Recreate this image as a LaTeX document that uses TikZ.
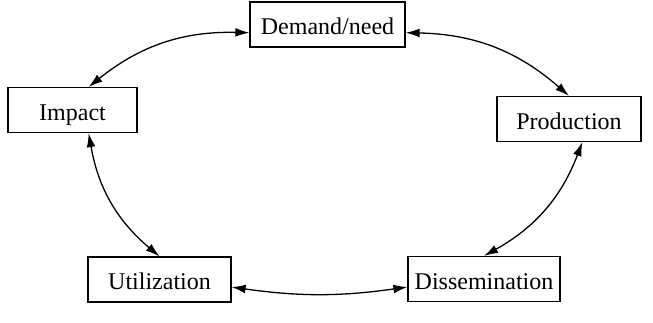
\documentclass[tikz,border=0pt]{standalone}
\usepackage{fontspec}
\setmainfont{Liberation Serif}
\usetikzlibrary{arrows.meta}

\begin{document}
\begin{tikzpicture}[
    x=0.5pt, y=-0.5pt,
    box/.style={draw, line width=0.6pt, minimum height=22.5pt, inner sep=0pt,
        text height=10.5pt, text depth=0.5pt, font=\fontsize{12}{14}\selectfont},
    link/.style={{Latex[length=7pt, width=4.4pt]}-{Latex[length=7pt, width=4.4pt]},
        line width=0.65pt},
]
    \useasboundingbox (0, 0) rectangle (653, 322);
    \node [box, minimum width=77.5pt] (dn) at (327.5, 24.5) {Demand/need};
    \node [box, minimum width=64.5pt] (im) at (72.5, 110) {Impact};
    \node [box, minimum width=72pt] (pr) at (569, 119) {Production};
    \node [box, minimum width=71.5pt] (ut) at (159.5, 279.5) {Utilization};
    \node [box, minimum width=76pt] (ds) at (484, 279) {Dissemination};
    \draw [link] (im.55) to [bend left=20] (dn.186);
    \draw [link] (dn.354) to [bend left=20] (pr.north);
    \draw [link] (pr.300) to [bend left=20] (ds.north);
    \draw [link] (ds.186) to [bend left=8] (ut.354);
    \draw [link] (ut.north) to [bend left=20] (im.305);
\end{tikzpicture}
\end{document}
